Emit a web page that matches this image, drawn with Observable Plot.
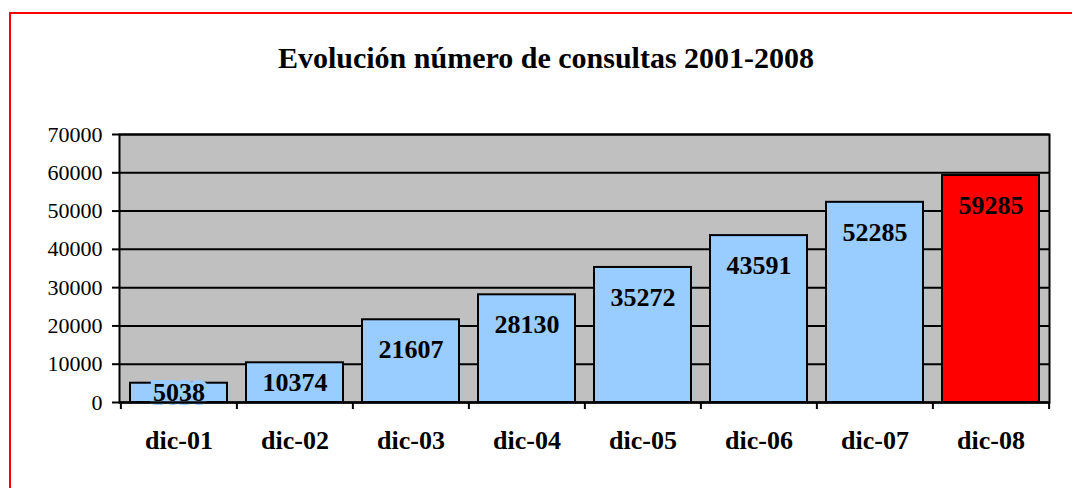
<!DOCTYPE html>
<html>
<head>
<meta charset="utf-8">
<script src="https://cdn.jsdelivr.net/npm/d3@7"></script>
<script src="https://cdn.jsdelivr.net/npm/@observablehq/plot@0.6"></script>
<style>
  html, body { margin: 0; padding: 0; background: #fff; overflow: hidden; }
  #wrap { position: relative; width: 1072px; height: 488px; overflow: hidden; font-family: "Liberation Serif", "Times New Roman", serif; }
  #border { position: absolute; left: 9px; top: 12px; width: 1200px; height: 700px; border: 2px solid #ff0000; box-sizing: border-box; }
  #title { position: absolute; left: 0; top: 41px; width: 1092px; text-align: center; font-weight: bold; font-size: 30px; color: #000; }
  #chart { position: absolute; left: 0; top: 0; }
</style>
</head>
<body>
<div id="wrap">
  <div id="border"></div>
  <div id="chart"></div>
  <div id="title">Evolución número de consultas 2001-2008</div>
</div>
<script>
const categories = ["dic-01", "dic-02", "dic-03", "dic-04", "dic-05", "dic-06", "dic-07", "dic-08"];
const values = [5038, 10374, 21607, 28130, 35272, 43591, 52285, 59285];
const yTicks = [0, 10000, 20000, 30000, 40000, 50000, 60000, 70000];
const highlighted = "dic-08";

const data = categories.map((c, i) => ({cat: c, value: values[i]}));
const BLUE = "#99CCFF", RED = "#FF0000";
const fillOf = d => d.cat === highlighted ? RED : BLUE;

const W = 1072, H = 488;
const mL = 119, mR = 23, mT = 134, mB = 86;
const step = (W - mL - mR) / categories.length;

const chart = Plot.plot({
  width: W,
  height: H,
  marginLeft: mL,
  marginRight: mR,
  marginTop: mT,
  marginBottom: mB,
  style: {fontFamily: "'Liberation Serif', 'Times New Roman', serif", background: "transparent", color: "#000"},
  x: {domain: categories, paddingInner: 0.166, paddingOuter: 0.083, label: null},
  y: {domain: [0, 70000], label: null},
  marks: [
    Plot.frame({fill: "#C0C0C0", stroke: null}),
    Plot.gridY(yTicks, {stroke: "#000", strokeOpacity: 1, strokeWidth: 2}),
    Plot.barY(data, {x: "cat", y: "value", fill: fillOf, stroke: "#000", strokeWidth: 2}),
    Plot.text(data, {
      x: "cat",
      y: d => Math.max(d.value / 2, d.value - 7800),
      text: d => String(d.value),
      fill: "#000",
      stroke: fillOf,
      strokeWidth: 8,
      strokeLinejoin: "miter",
      paintOrder: "stroke",
      fontWeight: "bold",
      fontSize: 26,
      lineAnchor: "middle"
    }),
    Plot.frame({stroke: "#000", strokeWidth: 2, fill: null}),
    Plot.ruleY([0], {stroke: "#000", strokeWidth: 2}),
    Plot.ruleX(categories, {x: d => d, dx: -step / 2, stroke: "#000", strokeWidth: 2, insetTop: H - mT - mB, insetBottom: -7}),
    Plot.ruleX([categories[categories.length - 1]], {x: d => d, dx: step / 2, stroke: "#000", strokeWidth: 2, insetTop: H - mT - mB, insetBottom: -7}),
    Plot.axisY(yTicks, {tickSize: 7, tickPadding: 10, fontSize: 22, stroke: "#000", strokeWidth: 2, tickFormat: d => String(d), label: null}),
    Plot.axisX({tickSize: 0, tickPadding: 28, fontSize: 26, fontWeight: "bold", label: null})
  ]
});
document.getElementById("chart").appendChild(chart);
</script>
</body>
</html>
